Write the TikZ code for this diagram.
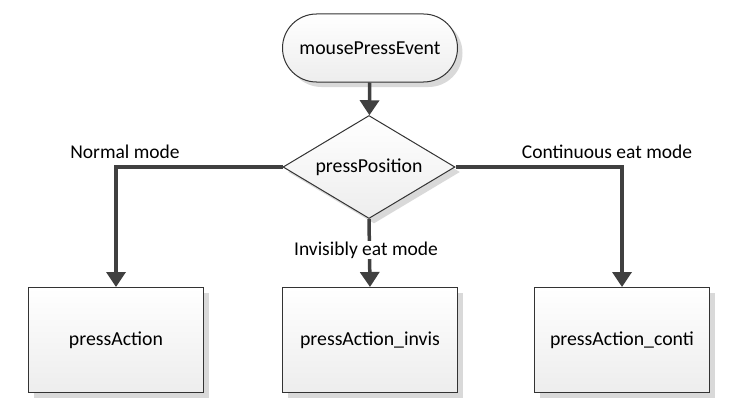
\documentclass[tikz,border=0pt]{standalone}
\usepackage{fontspec}
\setmainfont{Carlito}
\usetikzlibrary{shapes.geometric,shadows,arrows.meta}
\definecolor{lineGray}{HTML}{404040}
\definecolor{boxGray}{HTML}{EDEDED}
\begin{document}
	\begin{tikzpicture}[x=1pt,y=-1pt,
		shape base/.style={draw=black!80, line width=1pt, top color=white, bottom color=boxGray,
			drop shadow={shadow xshift=5pt, shadow yshift=-5pt, fill=black!15, opacity=1},
			font=\fontsize{19.8}{23}\selectfont, inner sep=0pt},
		terminal/.style={shape base, rectangle, rounded corners=34pt, minimum width=175pt, minimum height=68pt},
		decision/.style={shape base, diamond, aspect=1.67, minimum width=172pt, minimum height=103pt},
		action/.style={shape base, rectangle, minimum width=175pt, minimum height=105pt},
		flow/.style={draw=lineGray, line width=3.5pt, -{Triangle[length=15pt,width=19pt]}},
		branch/.style={font=\fontsize{19.5}{23}\selectfont}]
		\useasboundingbox (0, 0) rectangle (741, 412);
		\node[terminal] (event) at (370, 48) {mousePressEvent};
		\node[decision] (position) at (369, 167) {pressPosition};
		\node[action] (normal) at (116, 340) {pressAction};
		\node[action] (invis) at (370, 340) {pressAction\_invis};
		\node[action] (conti) at (622, 340) {pressAction\_conti};
		\draw[flow] (event) -- (position);
		\draw[flow] (position.west) -| (normal.north);
		\draw[flow] (position.south) -- (invis.north);
		\draw[flow] (position.east) -| (conti.north);
		\node[branch] (normalLabel) at (125, 152) {Normal mode};
		\node[branch, fill=white, inner sep=1pt] (invisLabel) at (366, 250) {Invisibly eat mode};
		\node[branch] (contiLabel) at (607, 152) {Continuous eat mode};
	\end{tikzpicture}
\end{document}
